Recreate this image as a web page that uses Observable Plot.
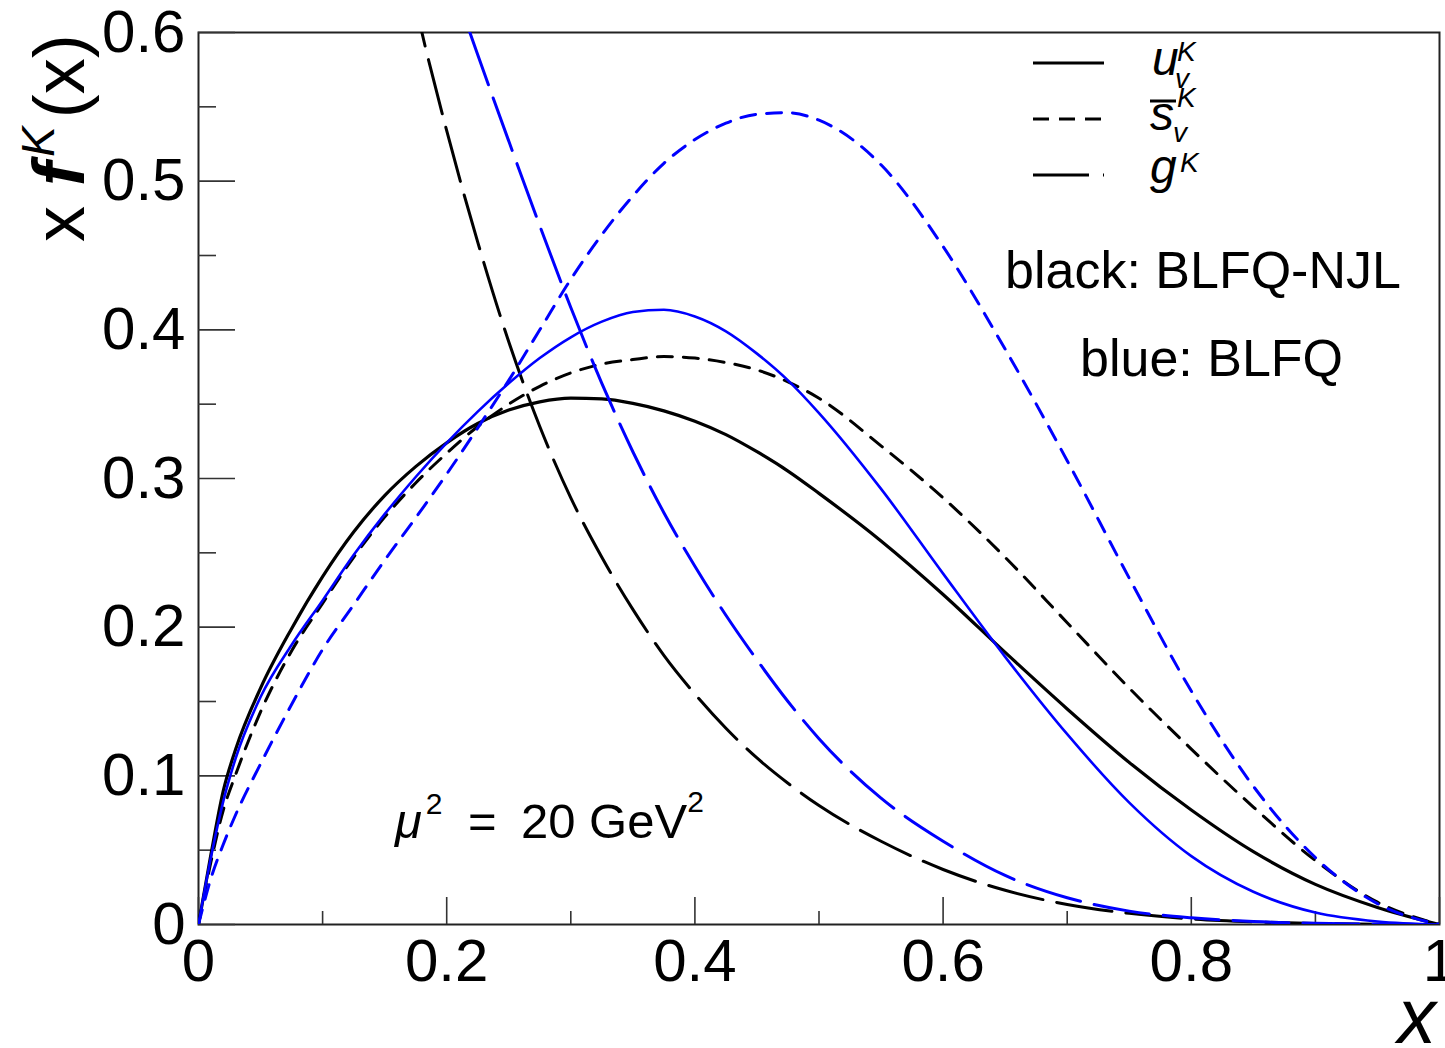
<!DOCTYPE html>
<html>
<head>
<meta charset="utf-8">
<script src="https://cdn.jsdelivr.net/npm/d3@7"></script>
<script src="https://cdn.jsdelivr.net/npm/@observablehq/plot@0.6"></script>
<style>
  html, body { margin: 0; padding: 0; background: #fff; }
  #chart svg { display: block; }
</style>
</head>
<body>
<div id="chart"></div>
<script>
// Momentum fraction grid shared by the valence curves
const xGrid = [0, 0.01, 0.02, 0.03, 0.05, 0.075, 0.1, 0.125, 0.15, 0.175, 0.2, 0.225, 0.25, 0.275, 0.3,
  0.325, 0.35, 0.375, 0.4, 0.425, 0.45, 0.475, 0.5, 0.55, 0.6, 0.65, 0.7, 0.75, 0.8, 0.85, 0.9, 0.95, 1.0];

// BLFQ-NJL (black)
const uValNJL = [0, 0.047, 0.090, 0.118, 0.159, 0.199, 0.234, 0.264, 0.2885, 0.308, 0.324, 0.337, 0.346, 0.3515, 0.354,
  0.3535, 0.3505, 0.3455, 0.3385, 0.3295, 0.318, 0.305, 0.290, 0.258, 0.222, 0.183, 0.145, 0.109, 0.077, 0.049, 0.027, 0.0115, 0];
const sValNJL = [0, 0.042, 0.077, 0.101, 0.143, 0.184, 0.216, 0.247, 0.274, 0.297, 0.317, 0.335, 0.350, 0.362, 0.371,
  0.377, 0.380, 0.382, 0.381, 0.378, 0.373, 0.365, 0.354, 0.322, 0.287, 0.247, 0.203, 0.159, 0.118, 0.079, 0.043, 0.015, 0];
const xGluonNJL = xGrid.slice(8);
const gluonNJL = [0.72, 0.618, 0.534, 0.459, 0.392, 0.335, 0.287, 0.247, 0.212, 0.181, 0.155, 0.132, 0.112, 0.095, 0.080,
  0.056, 0.037, 0.023, 0.0135, 0.0075, 0.0038, 0.0018, 0.0007, 0.0002, 0];

// BLFQ (blue)
const uValBLFQ = [0, 0.045, 0.083, 0.112, 0.153, 0.188, 0.218, 0.2485, 0.276, 0.301, 0.324, 0.345, 0.364, 0.381, 0.395,
  0.4055, 0.412, 0.4135, 0.409, 0.399, 0.384, 0.366, 0.344, 0.293, 0.236, 0.180, 0.128, 0.082, 0.046, 0.022, 0.008, 0.002, 0];
const sValBLFQ = [0, 0.031, 0.054, 0.074, 0.108, 0.148, 0.185, 0.215, 0.245, 0.2735, 0.303, 0.334, 0.366, 0.400, 0.434,
  0.464, 0.490, 0.512, 0.528, 0.539, 0.545, 0.546, 0.541, 0.511, 0.456, 0.387, 0.312, 0.233, 0.157, 0.093, 0.045, 0.014, 0];
const xGluonBLFQ = xGrid.slice(10);
const gluonBLFQ = [0.645, 0.585, 0.527, 0.470, 0.415, 0.364, 0.318, 0.277, 0.241, 0.208, 0.178, 0.150, 0.125,
  0.085, 0.056, 0.033, 0.018, 0.009, 0.0045, 0.002, 0.0008, 0.0002, 0];

// Axis ticks and their labels
const xMajor = [0, 0.2, 0.4, 0.6, 0.8, 1.0];
const xTickLabels = ["0", "0.2", "0.4", "0.6", "0.8", "1"];
const xMinor = [0.1, 0.3, 0.5, 0.7, 0.9];
const yMajor = [0, 0.1, 0.2, 0.3, 0.4, 0.5, 0.6];
const yTickLabels = ["0", "0.1", "0.2", "0.3", "0.4", "0.5", "0.6"];
const yMinor = [0.05, 0.15, 0.25, 0.35, 0.45, 0.55];

const FONT = "'Liberation Sans', Arial, Helvetica, sans-serif";
const BLUE = "#0000ff";
const SHORT_DASH = "15 11";
const LONG_DASH = "56 14";

const curves = [
  {name: "uNJL", xs: xGrid, ys: uValNJL, stroke: "black", dash: null, width: 3.2},
  {name: "sNJL", xs: xGrid, ys: sValNJL, stroke: "black", dash: SHORT_DASH, width: 3},
  {name: "gNJL", xs: xGluonNJL, ys: gluonNJL, stroke: "black", dash: LONG_DASH, width: 3},
  {name: "uBLFQ", xs: xGrid, ys: uValBLFQ, stroke: BLUE, dash: null, width: 2.6},
  {name: "sBLFQ", xs: xGrid, ys: sValBLFQ, stroke: BLUE, dash: SHORT_DASH, width: 3},
  {name: "gBLFQ", xs: xGluonBLFQ, ys: gluonBLFQ, stroke: BLUE, dash: LONG_DASH, width: 3}
];

const lineMarks = curves.map(c => Plot.line(
  c.ys.map((y, i) => ({x: c.xs[i], y})),
  {x: "x", y: "y", stroke: c.stroke, strokeWidth: c.width, strokeDasharray: c.dash,
   curve: "monotone-x", clip: true}
));

const tickColor = "#333";
const noText = () => "";

const chart = Plot.plot({
  width: 1445,
  height: 1048,
  marginLeft: 198,
  marginRight: 6,
  marginTop: 32,
  marginBottom: 124,
  style: {fontFamily: FONT, background: "white", color: "black"},
  x: {domain: [0, 1], label: null},
  y: {domain: [0, 0.6], label: null},
  marks: [
    Plot.frame({stroke: "#222", strokeWidth: 2}),
    // inward tick marks
    Plot.axisX(xMajor, {tickSize: -27, tickFormat: noText, label: null, stroke: tickColor, strokeWidth: 1.6}),
    Plot.axisX(xMinor, {tickSize: -13, tickFormat: noText, label: null, stroke: tickColor, strokeWidth: 1.6}),
    Plot.axisY(yMajor, {tickSize: -37, tickFormat: noText, label: null, stroke: tickColor, strokeWidth: 1.6}),
    Plot.axisY(yMinor, {tickSize: -18, tickFormat: noText, label: null, stroke: tickColor, strokeWidth: 1.6}),
    // tick labels
    Plot.axisX(xMajor, {tickSize: 0, tickPadding: 14, label: null, fontSize: 60, fill: "black",
      tickFormat: d => xTickLabels[xMajor.indexOf(d)]}),
    Plot.axisY(yMajor, {tickSize: 0, tickPadding: 13, label: null, fontSize: 60, fill: "black",
      tickFormat: d => yTickLabels[yMajor.indexOf(d)]}),
    ...lineMarks
  ]
});

document.getElementById("chart").appendChild(chart);

// Titles, annotations and legend drawn on top of the plot
const svg = d3.select(chart);
const layer = svg.append("g")
  .attr("font-family", FONT)
  .attr("fill", "black")
  .attr("text-anchor", "start");

function addText(x, y, parts, attrs = {}) {
  const t = layer.append("text").attr("x", x).attr("y", y);
  Object.entries(attrs).forEach(([k, v]) => t.attr(k, v));
  parts.forEach(p => {
    const s = t.append("tspan").text(p.text);
    Object.entries(p).forEach(([k, v]) => { if (k !== "text") s.attr(k, v); });
  });
  return t;
}

// y-axis title: x f^K (x)
addText(0, 0, [
  {text: "x "},
  {text: "f", "font-style": "italic", "font-weight": "bold"},
  {text: "K", "font-size": 46, "font-style": "italic", dy: -30, dx: 5},
  {text: "(x)", dy: 30, dx: 8}
], {transform: "translate(84,242) rotate(-90)", "font-size": 72});

// x-axis title
addText(1436, 1043, [{text: "x"}], {"font-size": 77, "font-style": "italic", "text-anchor": "end"});

// model annotations
addText(1005, 288, [{text: "black: BLFQ-NJL"}], {"font-size": 52});
addText(1080, 376, [{text: "blue: BLFQ"}], {"font-size": 52});

// scale annotation
addText(395, 838, [
  {text: "\u03bc", "font-style": "italic"},
  {text: "2", "font-size": 30, dy: -24, dx: 4},
  {text: "=", x: 468, dy: 24},
  {text: "20 GeV", x: 521},
  {text: "2", "font-size": 30, dy: -26}
], {"font-size": 49});

// legend
const legendRows = [
  {y: 63, dash: null},
  {y: 119, dash: "16 10"},
  {y: 175, dash: LONG_DASH}
];
legendRows.forEach(r => {
  layer.append("line")
    .attr("x1", 1033).attr("x2", 1104).attr("y1", r.y).attr("y2", r.y)
    .attr("stroke", "black").attr("stroke-width", 3.2)
    .attr("stroke-dasharray", r.dash);
});
const legendText = (x, y, s, size) => addText(x, y, [{text: s}], {"font-size": size, "font-style": "italic"});
legendText(1152, 75, "u", 48);
legendText(1177, 61, "K", 28);
legendText(1175, 88, "v", 28);
legendText(1150, 130, "s", 48);
layer.append("line").attr("x1", 1150).attr("x2", 1176).attr("y1", 101).attr("y2", 101)
  .attr("stroke", "black").attr("stroke-width", 3);
legendText(1177, 107, "K", 28);
legendText(1173, 142, "v", 28);
legendText(1150, 183, "g", 48);
legendText(1180, 172, "K", 28);
</script>
</body>
</html>
